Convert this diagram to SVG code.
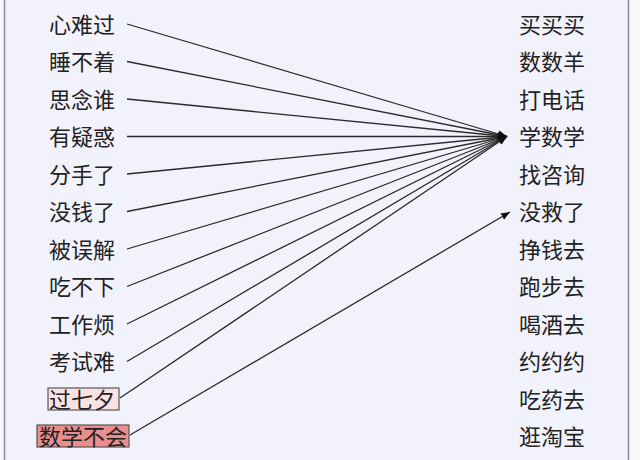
<svg xmlns="http://www.w3.org/2000/svg" width="640" height="460" viewBox="0 0 640 460">
<defs>
<style>
.t{font-family:"Noto Sans CJK SC","Noto Sans",sans-serif;font-size:22px;fill:#222;dominant-baseline:central}
.c{stroke:#2a2a2a;stroke-width:1.3;fill:none}
</style>
<marker id="ah" viewBox="0 0 10 10" refX="10" refY="5" markerWidth="9" markerHeight="9" markerUnits="userSpaceOnUse" orient="auto">
<path d="M0,1 L10,5 L0,9 Z" fill="#111"/>
</marker>
</defs>
<rect x="0" y="0" width="640" height="460" fill="#f7f7fc"/>
<rect x="4" y="0" width="624" height="460" fill="#f2f2fc"/>
<line x1="4.5" y1="0" x2="4.5" y2="460" stroke="#8a8aa0" stroke-width="1.5"/>
<line x1="628.5" y1="0" x2="628.5" y2="460" stroke="#8a8aa0" stroke-width="1.5"/>
<g id="connectors">
<line class="c" x1="127" y1="24" x2="507" y2="136.5" marker-end="url(#ah)"/>
<line class="c" x1="127" y1="61.5" x2="507" y2="136.5" marker-end="url(#ah)"/>
<line class="c" x1="127" y1="99" x2="507" y2="136.5" marker-end="url(#ah)"/>
<line class="c" x1="127" y1="136.5" x2="507" y2="136.5" marker-end="url(#ah)"/>
<line class="c" x1="127" y1="174" x2="507" y2="136.5" marker-end="url(#ah)"/>
<line class="c" x1="127" y1="211.5" x2="507" y2="136.5" marker-end="url(#ah)"/>
<line class="c" x1="127" y1="249" x2="507" y2="136.5" marker-end="url(#ah)"/>
<line class="c" x1="127" y1="286.5" x2="507" y2="136.5" marker-end="url(#ah)"/>
<line class="c" x1="127" y1="324" x2="507" y2="136.5" marker-end="url(#ah)"/>
<line class="c" x1="127" y1="361.5" x2="507" y2="136.5" marker-end="url(#ah)"/>
<line class="c" x1="120" y1="398" x2="507" y2="136.5" marker-end="url(#ah)"/>
<line class="c" x1="130" y1="435" x2="510" y2="212" marker-end="url(#ah)"/>
</g>
<g id="l1"><text class="t" x="49" y="22.5">心难过</text></g>
<g id="l2"><text class="t" x="49" y="60">睡不着</text></g>
<g id="l3"><text class="t" x="49" y="97.5">思念谁</text></g>
<g id="l4"><text class="t" x="49" y="135">有疑惑</text></g>
<g id="l5"><text class="t" x="49" y="172.5">分手了</text></g>
<g id="l6"><text class="t" x="49" y="210">没钱了</text></g>
<g id="l7"><text class="t" x="49" y="247.5">被误解</text></g>
<g id="l8"><text class="t" x="49" y="285">吃不下</text></g>
<g id="l9"><text class="t" x="49" y="322.5">工作烦</text></g>
<g id="l10"><text class="t" x="49" y="360">考试难</text></g>
<g id="l11"><rect x="48" y="388" width="71" height="22" fill="#fbe2e2" stroke="#555" stroke-width="1.2"/><text class="t" x="49" y="397.5">过七夕</text></g>
<g id="l12"><rect x="37" y="425" width="92" height="22" fill="#e98e8e" stroke="#555" stroke-width="1.2"/><text class="t" x="39" y="435">数学不会</text></g>
<g id="r1"><text class="t" x="519" y="22.5">买买买</text></g>
<g id="r2"><text class="t" x="519" y="60">数数羊</text></g>
<g id="r3"><text class="t" x="519" y="97.5">打电话</text></g>
<g id="r4"><text class="t" x="519" y="135">学数学</text></g>
<g id="r5"><text class="t" x="519" y="172.5">找咨询</text></g>
<g id="r6"><text class="t" x="519" y="210">没救了</text></g>
<g id="r7"><text class="t" x="519" y="247.5">挣钱去</text></g>
<g id="r8"><text class="t" x="519" y="285">跑步去</text></g>
<g id="r9"><text class="t" x="519" y="322.5">喝酒去</text></g>
<g id="r10"><text class="t" x="519" y="360">约约约</text></g>
<g id="r11"><text class="t" x="519" y="397.5">吃药去</text></g>
<g id="r12"><text class="t" x="519" y="435">逛淘宝</text></g>
</svg>
